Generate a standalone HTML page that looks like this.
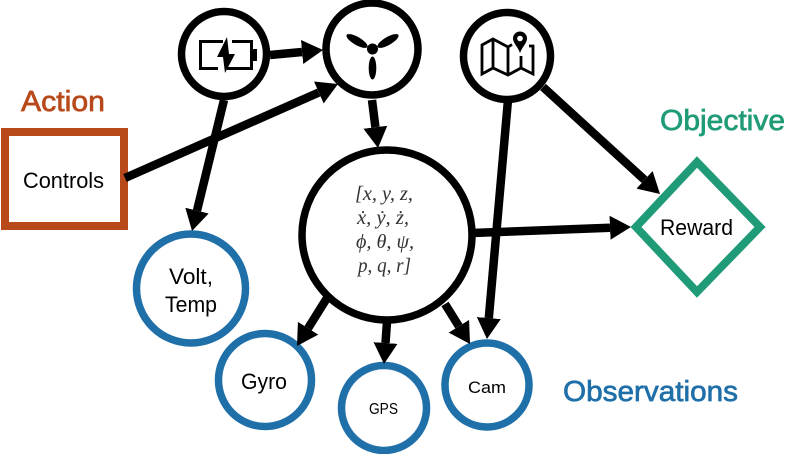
<!DOCTYPE html>
<html><head><meta charset="utf-8"><style>
html,body{margin:0;padding:0;background:#fff}
svg{display:block}
text{font-family:"Liberation Sans",sans-serif;fill:#000}
.m{font-family:"Liberation Serif",serif;font-style:italic;font-size:20px;fill:#333}
</style></head><body>
<svg width="796" height="454" viewBox="0 0 796 454" xmlns="http://www.w3.org/2000/svg">
<defs><marker id="a" markerUnits="userSpaceOnUse" markerWidth="24" markerHeight="28" refX="0" refY="14" orient="auto"><path d="M0 2L21 14L0 26z" fill="#000"/></marker></defs>
<g fill="none" stroke="#000" stroke-width="7.5">
<circle cx="224" cy="54" r="42.5"/>
<circle cx="372" cy="49" r="46"/>
<circle cx="507" cy="56" r="43.5"/>
<circle cx="387" cy="235" r="85"/>
</g>
<g fill="none" stroke="#1f6fa9" stroke-width="7.5">
<circle cx="191" cy="288.500" r="54.500"/>
<circle cx="265" cy="380" r="46.500"/>
<circle cx="384" cy="408" r="42.500"/>
<circle cx="487" cy="385" r="42"/>
</g>
<rect x="5" y="132" width="119" height="94" fill="none" stroke="#b7491a" stroke-width="8"/>
<path d="M697 162L760 227L697 292L636 227Z" fill="none" stroke="#1f9b77" stroke-width="8"/>
<g stroke="#000" stroke-width="8.500" fill="none">
<line x1="270" y1="55" x2="302.100" y2="52" marker-end="url(#a)"/>
<line x1="125" y1="178" x2="318.800" y2="92.500" marker-end="url(#a)"/>
<line x1="372" y1="100" x2="375.400" y2="127.200" marker-end="url(#a)"/>
<line x1="224" y1="100" x2="197" y2="210.600" marker-end="url(#a)"/>
<line x1="508" y1="100" x2="488.800" y2="318.100" marker-end="url(#a)"/>
<line x1="543" y1="87" x2="644.500" y2="179.800" marker-end="url(#a)"/>
<line x1="472" y1="233" x2="610" y2="227.800" marker-end="url(#a)"/>
<line x1="327" y1="298" x2="308.100" y2="328.200" marker-end="url(#a)"/>
<line x1="387" y1="322" x2="385.500" y2="343" marker-end="url(#a)"/>
<line x1="445" y1="304" x2="458.900" y2="326.200" marker-end="url(#a)"/>
</g>
<!-- battery icon -->
<path d="M223 41.500H200.500V68.500H218M232 41.500H251.500V68.500H227" fill="none" stroke="#000" stroke-width="3"/>
<rect x="253" y="49" width="4" height="12" fill="#000"/>
<path d="M227 37L217 57H223L225 73L235 54H229Z" fill="#000"/>
<!-- turbine icon -->
<circle cx="372.500" cy="49" r="5.500" fill="#000"/>
<ellipse cx="357" cy="41" rx="12" ry="4" transform="rotate(30 357 41)" fill="#000"/>
<ellipse cx="388" cy="41" rx="12" ry="4" transform="rotate(-30 388 41)" fill="#000"/>
<ellipse cx="372.500" cy="68" rx="3.800" ry="11.500" fill="#000"/>
<!-- map icon -->
<path d="M512 44.500L508 47L493 39L482 45V74L493 68L508 75L521 68L533 74V46H529M493 39V68M508 47V75M521 56V68" fill="none" stroke="#000" stroke-width="2.800"/>
<path d="M520 31.500A7 7 0 0 0 513 38.500C513 43 518 47 520 53C522 47 527 43 527 38.500A7 7 0 0 0 520 31.500Z" fill="#000"/>
<circle cx="520" cy="38.500" r="2.800" fill="#fff"/>
<!-- math -->
<text class="m" x="355" y="200" textLength="58" lengthAdjust="spacingAndGlyphs">[x, y, z,</text>
<text class="m" x="357" y="224" textLength="52" lengthAdjust="spacingAndGlyphs">ẋ, ẏ, ż,</text>
<text class="m" x="356" y="248" textLength="58" lengthAdjust="spacingAndGlyphs">ϕ, θ, ψ,</text>
<text class="m" x="358" y="272" textLength="53" lengthAdjust="spacingAndGlyphs">p, q, r]</text>
<!-- labels -->
<text x="23" y="188" font-size="22" textLength="81" lengthAdjust="spacingAndGlyphs">Controls</text>
<text x="169" y="284" font-size="22" textLength="44" lengthAdjust="spacingAndGlyphs">Volt,</text>
<text x="165" y="312" font-size="22" textLength="52" lengthAdjust="spacingAndGlyphs">Temp</text>
<text x="241" y="389" font-size="22" textLength="46" lengthAdjust="spacingAndGlyphs">Gyro</text>
<text x="369" y="414" font-size="15.500" textLength="29" lengthAdjust="spacingAndGlyphs">GPS</text>
<text x="468" y="393" font-size="17" textLength="38" lengthAdjust="spacingAndGlyphs">Cam</text>
<text x="660" y="235" font-size="22" textLength="73" lengthAdjust="spacingAndGlyphs">Reward</text>
<text x="21" y="111" font-size="29" stroke="#b7491a" stroke-width="0.700" style="fill:#b7491a" textLength="84" lengthAdjust="spacingAndGlyphs">Action</text>
<text x="660" y="130" font-size="29" stroke="#1f9b77" stroke-width="0.700" style="fill:#1f9b77" textLength="125" lengthAdjust="spacingAndGlyphs">Objective</text>
<text x="563" y="401" font-size="29" stroke="#1f6fa9" stroke-width="0.700" style="fill:#1f6fa9" textLength="175" lengthAdjust="spacingAndGlyphs">Observations</text>
</svg>
</body></html>
